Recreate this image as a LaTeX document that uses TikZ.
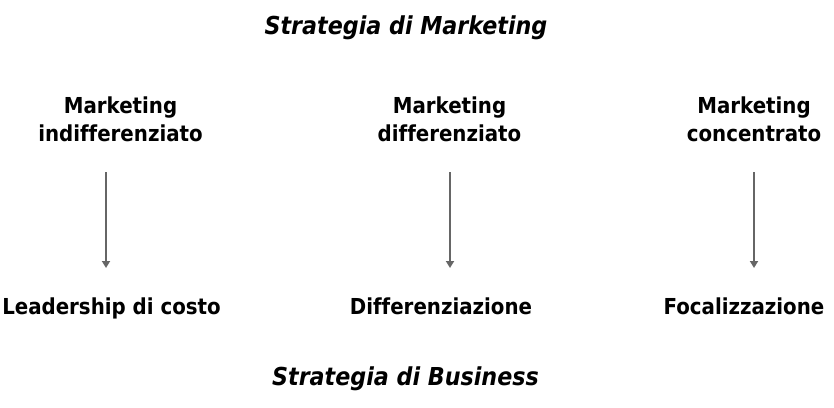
\documentclass[tikz,border=0pt]{standalone}
\usepackage{fontspec}
\setmainfont[Ligatures={NoCommon}]{DejaVu Sans Condensed}
\usetikzlibrary{arrows.meta}
\begin{document}
\begin{tikzpicture}[x=1pt,y=-1pt,
  lbl/.style={font=\fontsize{22}{28}\selectfont\bfseries, align=center, inner sep=0pt, text=black, anchor=base},
  ttl/.style={font=\fontsize{24.7}{28}\selectfont\bfseries\itshape, inner sep=0pt, text=black, anchor=base},
  arr/.style={draw=black!60, line width=2.2pt, -{Triangle[length=7pt,width=8pt]}}]
\useasboundingbox (0,0) rectangle (834,407);
\node[ttl] (tm) at (406,34) {Strategia di Marketing};
\node[lbl] (m1) at (120.5,141) {Marketing\\indifferenziato};
\node[lbl] (m2) at (449.5,141) {Marketing\\differenziato};
\node[lbl] (m3) at (754,141) {Marketing\\concentrato};
\node[lbl] (b1) at (111.5,314) {Leadership di costo};
\node[lbl] (b2) at (441,314) {Differenziazione};
\node[lbl] (b3) at (744,314) {Focalizzazione};
\node[ttl] (tb) at (405.5,385) {Strategia di Business};
\coordinate (s1) at (106,172); \coordinate (e1) at (106,268);
\coordinate (s2) at (450,172); \coordinate (e2) at (450,268);
\coordinate (s3) at (754,172); \coordinate (e3) at (754,268);
\draw[arr] (s1) -- (e1);
\draw[arr] (s2) -- (e2);
\draw[arr] (s3) -- (e3);
\end{tikzpicture}
\end{document}
